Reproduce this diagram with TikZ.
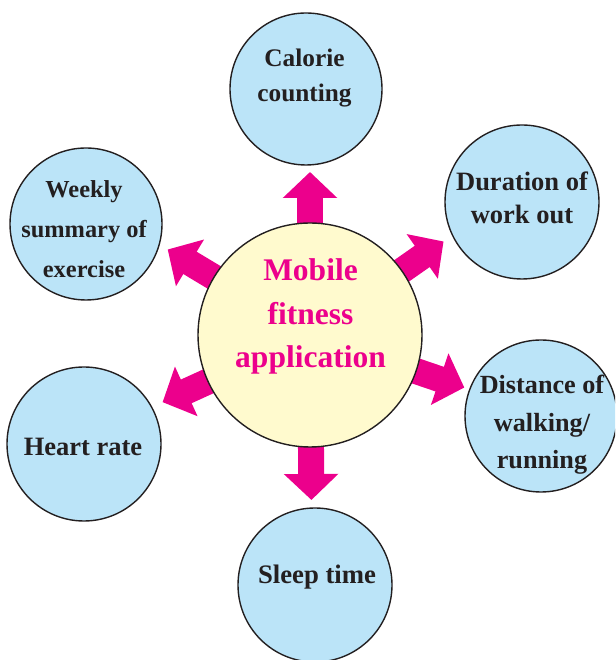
\documentclass[tikz,border=0pt]{standalone}
\usepackage{fontspec}
\setmainfont{Liberation Serif}
\usetikzlibrary{arrows.meta,calc}
\definecolor{bluefill}{RGB}{187,228,248}
\definecolor{yellowfill}{RGB}{255,250,206}
\definecolor{magentaarr}{RGB}{236,0,140}
\definecolor{darktext}{RGB}{35,31,32}
\begin{document}
\begin{tikzpicture}[x=1pt,y=1pt,
  outer/.style={circle,draw=darktext,line width=1.4pt,fill=bluefill,inner sep=0pt},
  hub/.style={circle,draw=darktext,line width=1.4pt,fill=yellowfill,inner sep=0pt,minimum size=224pt},
  lbl/.style={anchor=base,inner sep=0pt,text=darktext,font=\bfseries},
  hublbl/.style={anchor=base,inner sep=0pt,text=magentaarr,font=\bfseries},
  bigarrow/.style={draw=magentaarr,line width=26pt,-{Triangle[width=53pt,length=26pt]}}]
\useasboundingbox (0,0) rectangle (615,660);
\clip (0,0) rectangle (615,660);
% outer circles
\node[outer,minimum size=152pt] (calorie) at (306,571) {};
\node[outer,minimum size=154pt] (duration) at (522,458) {};
\node[outer,minimum size=152pt] (distance) at (541,244) {};
\node[outer,minimum size=154pt] (sleep) at (315,75) {};
\node[outer,minimum size=154pt] (heart) at (84,216) {};
\node[outer,minimum size=152pt] (weekly) at (86,436) {};
% hub position
\coordinate (hubc) at (310,325);
% arrow tips
\coordinate (tipA) at ($(hubc)+(90:163)$);
\coordinate (tipB) at ($(hubc)+(35:163)$);
\coordinate (tipC) at ($(hubc)+(-18.8:163)$);
\coordinate (tipD) at ($(hubc)+(-89.5:165)$);
\coordinate (tipE) at ($(hubc)+(-155.5:162)$);
\coordinate (tipF) at ($(hubc)+(149:166)$);
\draw[bigarrow] (hubc) -- (tipA);
\draw[bigarrow] (hubc) -- (tipB);
\draw[bigarrow] (hubc) -- (tipC);
\draw[bigarrow] (hubc) -- (tipD);
\draw[bigarrow] (hubc) -- (tipE);
\draw[bigarrow] (hubc) -- (tipF);
% hub
\node[hub] (hub) at (hubc) {};
% labels
\node[hublbl] (hubt) at (310.5,379) {\fontsize{31.5}{43.5}\selectfont\begin{tabular}[t]{@{}c@{}}Mobile\\fitness\\application\end{tabular}};
\node[lbl] (calt) at (304.5,593) {\fontsize{25.3}{35}\selectfont\begin{tabular}[t]{@{}c@{}}Calorie\\counting\end{tabular}};
\node[lbl] (durt) at (522,469) {\fontsize{26.5}{33}\selectfont\begin{tabular}[t]{@{}c@{}}Duration of\\work out\end{tabular}};
\node[lbl] (dist) at (542,266) {\fontsize{26.2}{37.5}\selectfont\begin{tabular}[t]{@{}c@{}}Distance of\\walking/\\running\end{tabular}};
\node[lbl] (sleept) at (317,76) {\fontsize{26.7}{30}\selectfont Sleep time};
\node[lbl] (heartt) at (83,204) {\fontsize{26.5}{30}\selectfont Heart rate};
\node[lbl] (weekt) at (84,462) {\fontsize{24.4}{40}\selectfont\begin{tabular}[t]{@{}c@{}}Weekly\\summary of\\exercise\end{tabular}};
\end{tikzpicture}
\end{document}
